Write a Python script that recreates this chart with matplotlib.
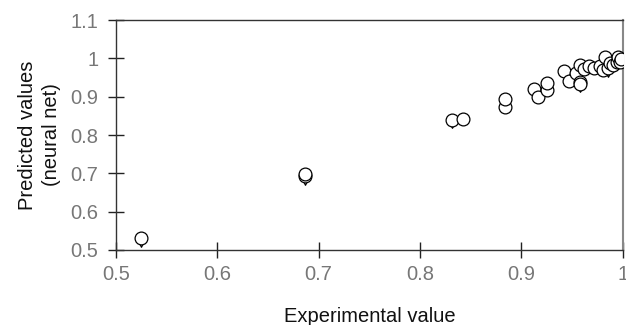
import matplotlib
matplotlib.use('Agg')
import matplotlib.pyplot as plt

# experimental vs predicted (neural net)
exp_val = [0.525, 0.687, 0.687, 0.832, 0.842, 0.884, 0.884, 0.912, 0.916,
           0.925, 0.925, 0.942, 0.947, 0.954, 0.958, 0.958, 0.958, 0.962,
           0.967, 0.972, 0.977, 0.980, 0.982, 0.985, 0.987, 0.990, 0.994,
           0.995, 0.997, 0.998]
pred_val = [0.530, 0.693, 0.697, 0.840, 0.843, 0.872, 0.894, 0.921, 0.900,
            0.918, 0.937, 0.966, 0.942, 0.961, 0.983, 0.939, 0.934, 0.972,
            0.979, 0.974, 0.979, 0.970, 1.005, 0.974, 0.987, 0.983, 0.992,
            1.005, 0.991, 0.998]

# second (triangle) series, mostly hidden under the circles
exp_tri = [0.525, 0.687, 0.832, 0.911, 0.958, 0.985]
pred_tri = [0.518, 0.681, 0.828, 0.909, 0.922, 0.962]

xticks = [0.5, 0.6, 0.7, 0.8, 0.9, 1.0]
xtick_labels = ['0.5', '0.6', '0.7', '0.8', '0.9', '1']
yticks = [0.5, 0.6, 0.7, 0.8, 0.9, 1.0, 1.1]
ytick_labels = ['0.5', '0.6', '0.7', '0.8', '0.9', '1', '1.1']

plt.rcParams['font.family'] = ['Liberation Sans', 'DejaVu Sans']

fig = plt.figure(figsize=(6.26, 3.25), dpi=100)
ax = fig.add_axes([0.185, 0.231, 0.81, 0.707])

ax.scatter(exp_tri, pred_tri, marker='v', s=30, facecolor='white',
           edgecolor='black', linewidth=0.9, zorder=2)
ax.scatter(exp_val, pred_val, marker='o', s=85, facecolor='white',
           edgecolor='black', linewidth=0.9, zorder=3)

ax.set_xlim(0.5, 1.0)
ax.set_ylim(0.5, 1.1)
ax.set_xticks(xticks)
ax.set_xticklabels(xtick_labels)
ax.set_yticks(yticks)
ax.set_yticklabels(ytick_labels)

ax.tick_params(direction='inout', length=11, width=1, color='#222222',
               labelsize=14.5, labelcolor='#777777')
ax.tick_params(axis='x', pad=5)
ax.tick_params(axis='y', pad=7)

for side in ['left', 'bottom', 'top']:
    ax.spines[side].set_color('#333333')
    ax.spines[side].set_linewidth(1)
ax.spines['right'].set_color('#888888')
ax.spines['right'].set_linewidth(1.5)

ax.set_xlabel('Experimental value', fontsize=14.5, color='#111111', labelpad=17)
ax.set_ylabel('Predicted values\n(neural net)', fontsize=14.5, color='#111111',
              labelpad=7, linespacing=1.3)

fig.savefig('out.png', dpi=100)
